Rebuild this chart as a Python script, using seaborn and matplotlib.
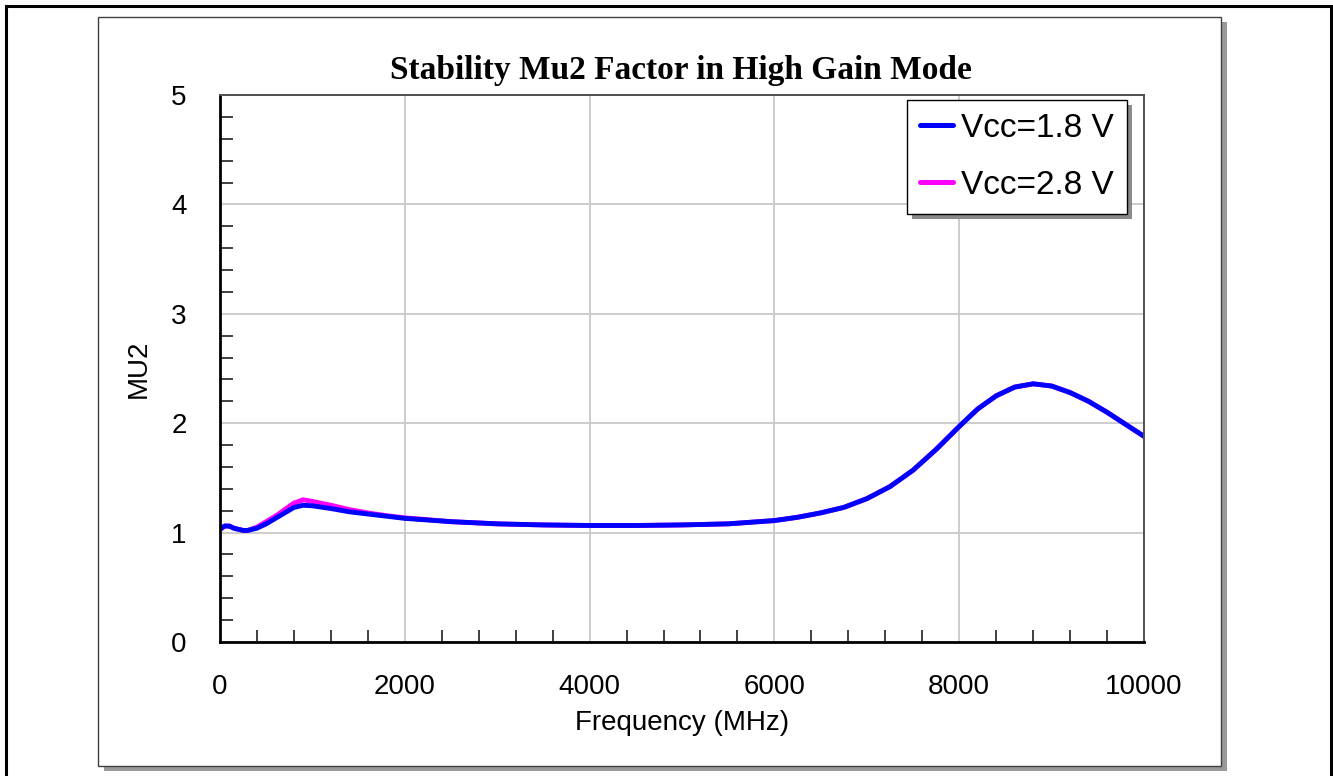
import matplotlib
matplotlib.use("Agg")
import matplotlib.pyplot as plt
from matplotlib.patches import Rectangle
from matplotlib.lines import Line2D
from matplotlib.ticker import MultipleLocator
import numpy as np
import pandas as pd
import seaborn as sns

# Frequency sweep (MHz) and Mu2 stability factor for each supply voltage
freq_mhz = [0, 50, 100, 150, 200, 250, 300, 400, 500, 600, 700, 800, 900, 1000,
            1200, 1400, 1600, 1800, 2000, 2500, 3000, 3500, 4000, 4500, 5000,
            5500, 6000, 6250, 6500, 6750, 7000, 7250, 7500, 7750, 8000, 8200,
            8400, 8600, 8800, 9000, 9200, 9400, 9600, 9800, 10000]

mu2_vcc18 = [1.03, 1.06, 1.06, 1.04, 1.03, 1.02, 1.02, 1.04, 1.08, 1.13, 1.18,
             1.23, 1.25, 1.245, 1.22, 1.19, 1.17, 1.15, 1.13, 1.10, 1.08, 1.07,
             1.065, 1.065, 1.07, 1.08, 1.11, 1.14, 1.18, 1.23, 1.31, 1.42, 1.57,
             1.76, 1.97, 2.13, 2.25, 2.33, 2.36, 2.34, 2.28, 2.20, 2.10, 1.99, 1.88]

mu2_vcc28 = [1.03, 1.06, 1.06, 1.04, 1.03, 1.02, 1.02, 1.05, 1.10, 1.15, 1.21,
             1.27, 1.30, 1.285, 1.25, 1.21, 1.18, 1.155, 1.135, 1.10, 1.08, 1.07,
             1.065, 1.065, 1.07, 1.08, 1.11, 1.14, 1.18, 1.23, 1.31, 1.42, 1.57,
             1.76, 1.97, 2.13, 2.25, 2.33, 2.36, 2.34, 2.28, 2.20, 2.10, 1.99, 1.88]

series_labels = ["Vcc=1.8 V", "Vcc=2.8 V"]
series_colors = ["#0000FF", "#FF00FF"]

df = pd.concat([
    pd.DataFrame({"freq": freq_mhz, "mu2": mu2_vcc18, "supply": series_labels[0]}),
    pd.DataFrame({"freq": freq_mhz, "mu2": mu2_vcc28, "supply": series_labels[1]}),
])

sns.set_style("white")
plt.rcParams["font.family"] = ["Liberation Sans", "DejaVu Sans"]
plt.rcParams["text.color"] = "black"
plt.rcParams["axes.labelcolor"] = "black"

W, H = 1333, 776
fig = plt.figure(figsize=(W / 100, H / 100), dpi=100)
fig.patch.set_facecolor("white")

def px_rect(x0, y0_top, x1, y1_top, **kw):
    # rectangle given in pixel coordinates measured from the top-left corner
    return Rectangle((x0 / W, 1 - y1_top / H), (x1 - x0) / W, (y1_top - y0_top) / H,
                     transform=fig.transFigure, **kw)

# outer page frame
fig.add_artist(px_rect(6, 6, 1331, 790, fill=False, edgecolor="black", linewidth=2.2, zorder=-3))
# chart panel with drop shadow
fig.add_artist(px_rect(104, 22, 1227, 771, facecolor="#9a9a9a", edgecolor="none", zorder=-2))
fig.add_artist(px_rect(98, 17, 1221, 766, facecolor="white", edgecolor="#404040", linewidth=1.0, zorder=-1))

ax = fig.add_axes([220 / W, 134 / H, 924 / W, 547 / H])
ax.set_facecolor("white")

# magenta first so the 1.8 V trace sits on top
sns.lineplot(data=df[df["supply"] == series_labels[1]], x="freq", y="mu2",
             color=series_colors[1], linewidth=3.5, ax=ax, legend=False)
sns.lineplot(data=df[df["supply"] == series_labels[0]], x="freq", y="mu2",
             color=series_colors[0], linewidth=3.5, ax=ax, legend=False)

ax.set_xlim(0, 10000)
ax.set_ylim(0, 5)
ax.xaxis.set_major_locator(MultipleLocator(2000))
ax.xaxis.set_minor_locator(MultipleLocator(400))
ax.yaxis.set_major_locator(MultipleLocator(1))
ax.yaxis.set_minor_locator(MultipleLocator(0.2))
ax.grid(True, which="major", color="#c8c8c8", linewidth=1.3)
ax.tick_params(which="both", bottom=True, left=True, top=False, right=False)
ax.tick_params(which="major", length=0, labelsize=20, colors="black")
ax.tick_params(axis="y", which="major", pad=24)
ax.tick_params(axis="x", which="major", pad=23)
ax.tick_params(which="minor", direction="in", length=9, width=1.4, color="#404040")

for side in ["left", "bottom"]:
    ax.spines[side].set_color("black")
    ax.spines[side].set_linewidth(2.0)
for side in ["top", "right"]:
    ax.spines[side].set_color("#505050")
    ax.spines[side].set_linewidth(1.4)

ax.set_xlabel("Frequency (MHz)", fontsize=20)
ax.set_ylabel("MU2", fontsize=20)
ax.xaxis.set_label_coords(0.5, -0.124)
ax.yaxis.set_label_coords(-0.074, 0.5)

fig.text(681 / W, 1 - 70 / H, "Stability Mu2 Factor in High Gain Mode",
         ha="center", va="center", fontsize=24, fontweight="bold", color="black",
         family=["Liberation Serif", "DejaVu Serif"])

handles = [Line2D([], [], color=c, linewidth=3.6) for c in series_colors]
leg = ax.legend(handles, series_labels, loc="upper right",
                bbox_to_anchor=((1127 - 220) / 924, (642 - 100) / 547),
                borderaxespad=0, fontsize=24, frameon=True, fancybox=False,
                handlelength=1.0, handletextpad=0.24,
                labelspacing=0.78, borderpad=0.385)
leg.get_frame().set_facecolor("white")
leg.get_frame().set_alpha(1.0)
leg.get_frame().set_edgecolor("black")
leg.get_frame().set_linewidth(1.0)
leg.set_zorder(6)

# legend drop shadow
fig.canvas.draw()
bb = leg.get_window_extent().transformed(ax.transAxes.inverted())
dx, dy = 5 / 924, 5 / 547
ax.add_patch(Rectangle((bb.x0 + dx, bb.y0 - dy), bb.width, bb.height,
                       transform=ax.transAxes, facecolor="#8a8a8a",
                       edgecolor="none", zorder=5.5, clip_on=False))

fig.savefig("out.png", dpi=100)
